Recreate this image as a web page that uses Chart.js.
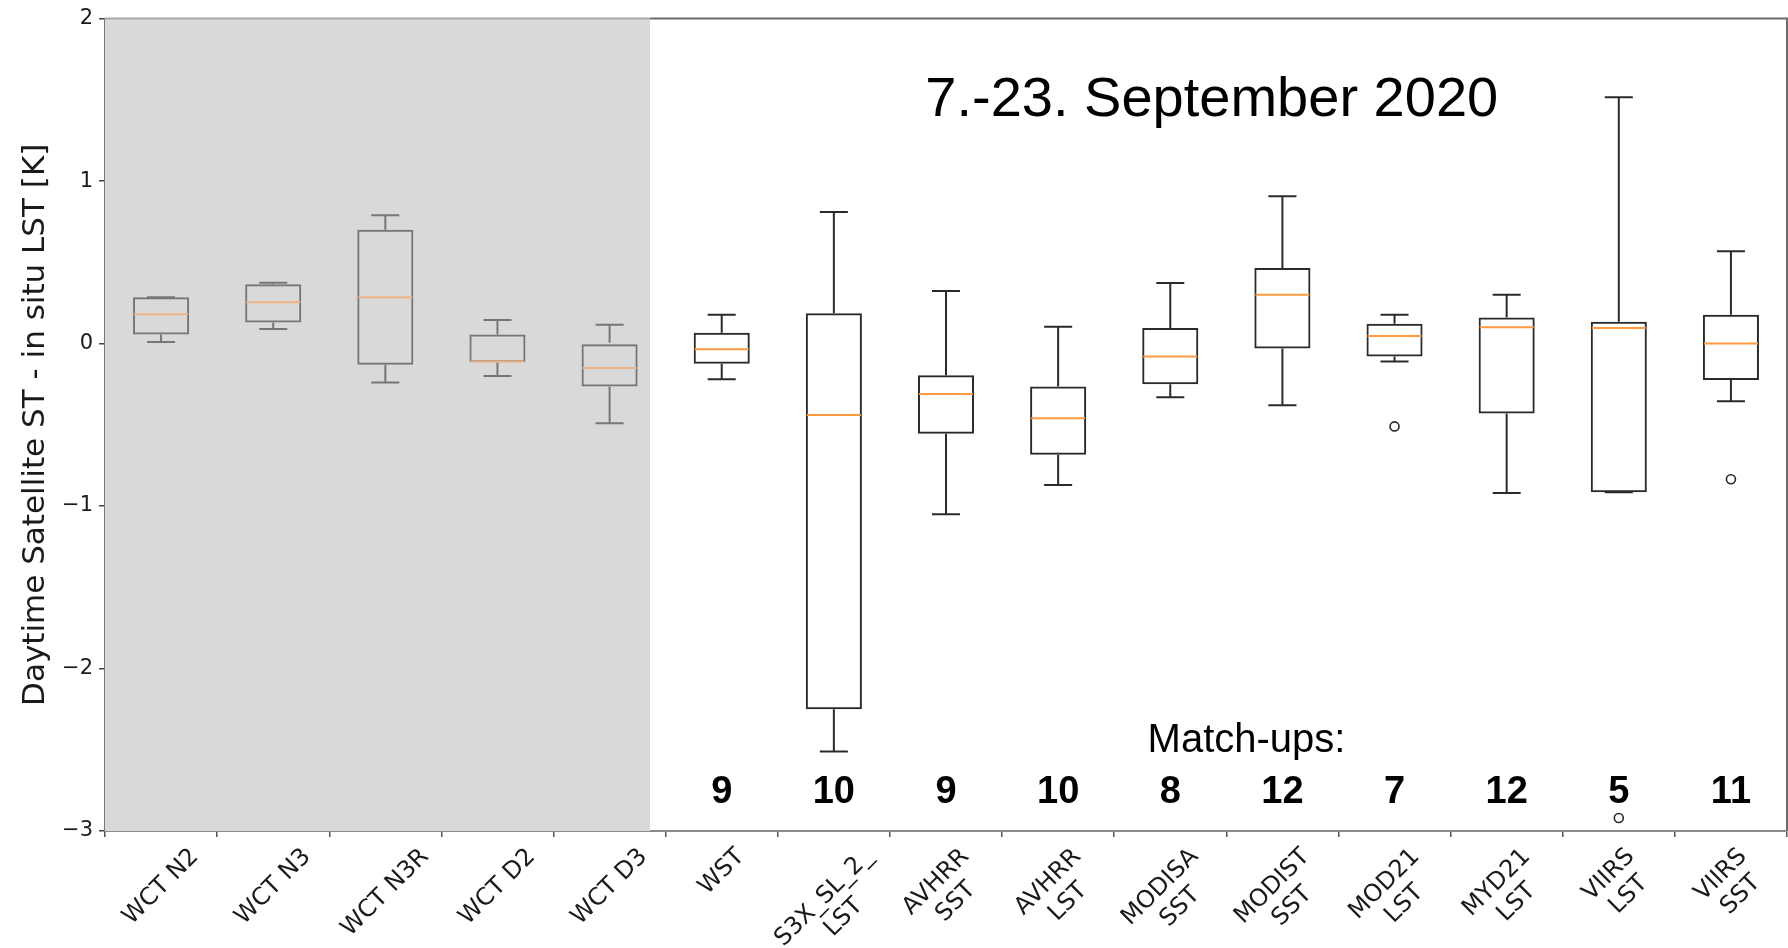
<!DOCTYPE html>
<html>
<head>
<meta charset="utf-8">
<script src="https://cdn.jsdelivr.net/npm/chart.js@4.4.1/dist/chart.umd.min.js"></script>
<style>
  html, body { margin: 0; padding: 0; background: #ffffff; }
  canvas { display: block; }
</style>
</head>
<body>
<canvas id="chart" width="1788" height="948"></canvas>
<script>
// ---------------- data ----------------
const categories = ['WCT N2', 'WCT N3', 'WCT N3R', 'WCT D2', 'WCT D3', 'WST', 'S3X_SL_2_LST',
  'AVHRR SST', 'AVHRR LST', 'MODISA SST', 'MODIST SST', 'MOD21 LST', 'MYD21 LST', 'VIIRS LST', 'VIIRS SST'];
const tickLabels = [['WCT N2'], ['WCT N3'], ['WCT N3R'], ['WCT D2'], ['WCT D3'], ['WST'],
  ['S3X_SL_2_', 'LST'], ['AVHRR', 'SST'], ['AVHRR', 'LST'], ['MODISA', 'SST'], ['MODIST', 'SST'],
  ['MOD21', 'LST'], ['MYD21', 'LST'], ['VIIRS', 'LST'], ['VIIRS', 'SST']];
const whiskerLow  = [0.01, 0.09, -0.24, -0.20, -0.49, -0.22, -2.51, -1.05, -0.87, -0.33, -0.38, -0.11, -0.92, -0.915, -0.355];
const quartile1   = [0.055, 0.13, -0.13, -0.115, -0.265, -0.125, -2.25, -0.555, -0.685, -0.25, -0.03, -0.08, -0.43, -0.915, -0.225];
const medians     = [0.18, 0.255, 0.285, -0.11, -0.15, -0.035, -0.44, -0.31, -0.46, -0.08, 0.30, 0.047, 0.10, 0.095, 0.0];
const quartile3   = [0.285, 0.365, 0.70, 0.055, 0.0, 0.067, 0.186, -0.195, -0.265, 0.096, 0.465, 0.122, 0.16, 0.135, 0.178];
const whiskerHigh = [0.285, 0.375, 0.79, 0.145, 0.116, 0.178, 0.81, 0.323, 0.104, 0.372, 0.907, 0.178, 0.30, 1.516, 0.568];
const outliers    = [null, null, null, null, null, null, null, null, null, null, null, -0.51, null, -2.92, -0.835];
const matchUps    = [null, null, null, null, null, 9, 10, 9, 10, 8, 12, 7, 12, 5, 11];
const yTicks = [2, 1, 0, -1, -2, -3];
const titleText = '7.-23. September 2020';
const matchUpsLabel = 'Match-ups:';
const yAxisTitle = 'Daytime Satellite ST - in situ LST [K]';
const referenceGroupCount = 5; // WCT products shown on grey panel

// ---------------- styling helpers ----------------
const isRef = i => i < referenceGroupCount;
const boxColors = categories.map((_, i) => isRef(i) ? '#767676' : '#2a2a2a');
const medianColors = categories.map((_, i) => isRef(i) ? '#eeb287' : '#ff9a40');
const catWidth = ctx => ctx.chart.scales.x.width / categories.length;

const PANEL_END = 4.36;   // category coordinate where grey panel ends
const TITLE_POS = {x: 9.37, y: 1.40};
const MATCH_POS = {x: 9.68, y: -2.516};
const COUNT_Y = -2.828;

const panelPlugin = {
  id: 'panel',
  beforeDatasetsDraw(chart) {
    const {ctx, chartArea, scales: {x}} = chart;
    const xEnd = x.getPixelForValue(PANEL_END);
    ctx.save();
    ctx.fillStyle = '#d9d9d9';
    ctx.fillRect(chartArea.left, chartArea.top, xEnd - chartArea.left, chartArea.bottom - chartArea.top);
    ctx.restore();
  },
  afterDatasetsDraw(chart) {
    const {ctx, chartArea, scales: {x, y}} = chart;
    const xEnd = x.getPixelForValue(PANEL_END);
    ctx.save();
    // top and right spines
    ctx.lineWidth = 2;
    ctx.strokeStyle = '#a9a9a9';
    ctx.beginPath(); ctx.moveTo(chartArea.left, chartArea.top); ctx.lineTo(xEnd, chartArea.top); ctx.stroke();
    ctx.strokeStyle = '#6c6c6c';
    ctx.beginPath(); ctx.moveTo(xEnd, chartArea.top); ctx.lineTo(chartArea.right, chartArea.top);
    ctx.lineTo(chartArea.right, chartArea.bottom); ctx.stroke();

    // title
    ctx.fillStyle = '#000';
    ctx.textAlign = 'center';
    ctx.textBaseline = 'alphabetic';
    ctx.font = '56px "Liberation Sans", Arial, sans-serif';
    ctx.fillText(titleText, x.getPixelForValue(TITLE_POS.x), y.getPixelForValue(TITLE_POS.y));
    // match-ups label
    ctx.font = '40px "Liberation Sans", Arial, sans-serif';
    ctx.fillText(matchUpsLabel, x.getPixelForValue(MATCH_POS.x), y.getPixelForValue(MATCH_POS.y));
    // counts
    ctx.font = 'bold 38px "Liberation Sans", Arial, sans-serif';
    matchUps.forEach((n, i) => {
      if (n === null) return;
      ctx.fillText(String(n), x.getPixelForTick(i), y.getPixelForValue(COUNT_Y));
    });

    // x tick labels, rotated 45 deg, centred on tick like matplotlib
    const fs = 24, lh = fs * 1.17;
    ctx.font = fs + 'px "DejaVu Sans", sans-serif';
    ctx.fillStyle = '#1a1a1a';
    ctx.textAlign = 'center';
    ctx.textBaseline = 'middle';
    tickLabels.forEach((lines, i) => {
      const px = x.getPixelForTick(i);
      const w = Math.max(...lines.map(l => ctx.measureText(l).width));
      const h = lines.length * lh;
      const side = (w + h) * Math.SQRT1_2;
      const top = x.top + 6 + 6;
      ctx.save();
      ctx.translate(px, top + side / 2);
      ctx.rotate(-Math.PI / 4);
      lines.forEach((l, k) => ctx.fillText(l, 0, (k - (lines.length - 1) / 2) * lh));
      ctx.restore();
    });
    ctx.restore();
  }
};

const data = {
  labels: categories,
  datasets: [
    {
      type: 'line', label: 'outliers', data: outliers, order: 0, showLine: false,
      pointStyle: 'circle', pointRadius: 4.5, pointBorderWidth: 1.6,
      pointBorderColor: '#2a2a2a', pointBackgroundColor: 'rgba(0,0,0,0)', borderColor: '#2a2a2a'
    },
    {
      type: 'line', label: 'median', data: medians, order: 1, showLine: false,
      pointStyle: 'line', pointRadius: ctx => catWidth(ctx) * 0.25 - 1, pointBorderWidth: 2,
      pointBorderColor: medianColors, pointBackgroundColor: medianColors, borderColor: medianColors
    },
    {
      type: 'line', label: 'lower cap', data: whiskerLow, order: 2, showLine: false,
      pointStyle: 'line', pointRadius: ctx => catWidth(ctx) * 0.125, pointBorderWidth: 2,
      pointBorderColor: boxColors, pointBackgroundColor: boxColors, borderColor: boxColors
    },
    {
      type: 'line', label: 'upper cap', data: whiskerHigh, order: 2, showLine: false,
      pointStyle: 'line', pointRadius: ctx => catWidth(ctx) * 0.125, pointBorderWidth: 2,
      pointBorderColor: boxColors, pointBackgroundColor: boxColors, borderColor: boxColors
    },
    {
      type: 'bar', label: 'box', order: 3, grouped: false,
      data: categories.map((_, i) => [quartile1[i], quartile3[i]]),
      backgroundColor: 'rgba(0,0,0,0)', borderColor: boxColors, borderWidth: 2, borderSkipped: false,
      barPercentage: 0.5, categoryPercentage: 1.0
    },
    {
      type: 'bar', label: 'lower whisker', order: 4, grouped: false,
      data: categories.map((_, i) => [whiskerLow[i], quartile1[i]]),
      backgroundColor: boxColors, borderWidth: 0, maxBarThickness: 2,
      barPercentage: 0.5, categoryPercentage: 1.0
    },
    {
      type: 'bar', label: 'upper whisker', order: 4, grouped: false,
      data: categories.map((_, i) => [quartile3[i], whiskerHigh[i]]),
      backgroundColor: boxColors, borderWidth: 0, maxBarThickness: 2,
      barPercentage: 0.5, categoryPercentage: 1.0
    }
  ]
};

Chart.defaults.font.family = '"DejaVu Sans", sans-serif';

new Chart(document.getElementById('chart'), {
  type: 'bar',
  data,
  plugins: [panelPlugin],
  options: {
    responsive: false,
    animation: false,
    events: [],
    layout: { autoPadding: false, padding: { top: 15, right: 1, bottom: 0, left: 0 } },
    plugins: { legend: { display: false }, tooltip: { enabled: false }, title: { display: false } },
    scales: {
      x: {
        type: 'category',
        offset: true,
        grid: { display: true, drawOnChartArea: false, drawTicks: true, tickLength: 6, color: '#555', lineWidth: 1.5 },
        border: { display: true, color: '#8a8a8a', width: 2 },
        ticks: { display: false, autoSkip: false },
        afterFit: s => { s.height = 117; }
      },
      y: {
        type: 'linear',
        min: -3, max: 2,
        afterBuildTicks: s => { s.ticks = yTicks.map(v => ({ value: v })); },
        grid: { display: true, drawOnChartArea: false, drawTicks: true, tickLength: 6, color: '#444', lineWidth: 1.5 },
        border: { display: true, color: '#7a7a7a', width: 2 },
        ticks: {
          color: '#1a1a1a', padding: 6,
          font: { size: 21, family: '"DejaVu Sans", sans-serif' },
          callback: v => (v < 0 ? '\u2212' + Math.abs(v) : String(v))
        },
        title: {
          display: true, text: yAxisTitle, color: '#1a1a1a',
          font: { size: 31, family: '"DejaVu Sans", sans-serif' },
          padding: { top: 17, bottom: 0 }
        },
        afterFit: s => { s.width = 105; }
      }
    }
  }
});
</script>
</body>
</html>
